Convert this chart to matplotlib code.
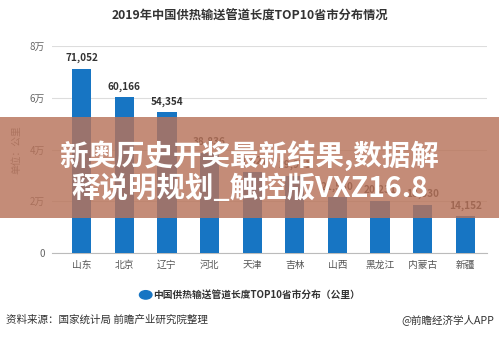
import matplotlib
matplotlib.use("Agg")
import matplotlib.pyplot as plt
from matplotlib.patches import Rectangle

plt.rcParams['font.family'] = ['Noto Sans CJK SC', 'DejaVu Sans']

# 数据
provinces = ["山东", "北京", "辽宁", "河北", "天津", "吉林", "山西", "黑龙江", "内蒙古", "新疆"]
lengths = [71052, 60166, 54354, 38836, 31427, 29971, 21530, 20231, 18530, 14152]
yticks = [0, 20000, 40000, 60000, 80000]
ytick_labels = ["0", "2万", "4万", "6万", "8万"]

title = "2019年中国供热输送管道长度TOP10省市分布情况"
legend_label = "中国供热输送管道长度TOP10省市分布（公里）"
source = "资料来源：国家统计局 前瞻产业研究院整理"
credit = "@前瞻经济学人APP"
banner = "新奥历史开奖最新结果,数据解\n释说明规划_触控版VXZ16.8"

bar_color = "#1775c3"

fig = plt.figure(figsize=(4.99, 3.37), dpi=100)
ax = fig.add_axes([0.104, 0.249, 0.872, 0.6145])

x = list(range(len(provinces)))
ax.bar(x, lengths, width=0.45, color=bar_color, zorder=3)
for xi, v in zip(x, lengths):
    ax.text(xi, v + 2200, f"{v:,}", ha="center", va="bottom",
            fontsize=7.2, color="#333333", fontweight="bold")

ax.set_xlim(-0.70, 9.51)
ax.set_ylim(0, 80000)
ax.set_yticks(yticks)
ax.set_yticklabels(ytick_labels, fontsize=7, color="#666666")
ax.set_xticks(x)
ax.set_xticklabels(provinces, fontsize=7, color="#555555")
ax.tick_params(axis="both", length=0, pad=5)
ax.grid(axis="y", color="#dddddd", linewidth=0.8, zorder=0)
for s in ["top", "right", "left"]:
    ax.spines[s].set_visible(False)
ax.spines["bottom"].set_color("#bbbbbb")
ax.set_ylabel("单位：公里", fontsize=7, color="#777777", labelpad=10)
ax.yaxis.set_label_coords(-0.07, 0.5)

fig.text(0.5, 0.953, title, ha="center", va="center", fontsize=8.8,
         fontweight="bold", color="#333333")

# legend
fig.patches.append(plt.Circle((0.292, 0.125), 0.0125, transform=fig.transFigure,
                              color=bar_color, figure=fig))
fig.text(0.306, 0.125, legend_label, ha="left", va="center", fontsize=7,
         fontweight="bold", color="#333333")

fig.text(0.012, 0.052, source, ha="left", va="center", fontsize=7.6, color="#333333")
fig.text(0.99, 0.052, credit, ha="right", va="center", fontsize=7.6, color="#333333")

# overlay banner
fig.patches.append(Rectangle((0, 0.353), 1, 0.3, transform=fig.transFigure,
                             facecolor="#b8735a", alpha=0.82, zorder=10, figure=fig))
fig.text(0.5, 0.49, banner, ha="center", va="center", fontsize=20.5,
         fontweight="heavy", color="white", linespacing=1.15, zorder=11)

fig.savefig("out.png", dpi=100)
